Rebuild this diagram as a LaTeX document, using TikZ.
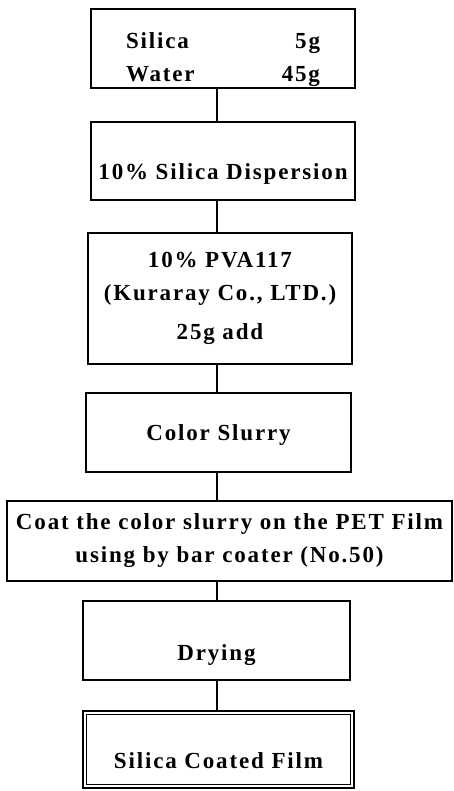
\documentclass[tikz,border=0pt]{standalone}
\usepackage{fontspec}
\setmainfont{Liberation Serif}[LetterSpace=8]
\newcommand\lowertext[2]{\raisebox{-#1}[\height][\depth]{#2}}
\begin{document}
\begin{tikzpicture}[x=1pt,y=-1pt,
  box/.style={draw, line width=1.6pt, inner sep=0pt, align=center,
    font=\bfseries\fontsize{23}{33}\selectfont},
  link/.style={line width=1.3pt}]
\useasboundingbox (0,0) rectangle (454,791);
\fill[white] (0,0) rectangle (454,791);

\node[box, minimum width=264pt, minimum height=79pt] (b1) at (223,48.5)
  {\lowertext{10pt}{\begin{tabular}{@{}l@{}}\makebox[194pt]{Silica\hfill 5g}\\\makebox[194pt]{Water\hfill 45g}\end{tabular}}};
\node[box, minimum width=264pt, minimum height=78pt] (b2) at (223,161)
  {\lowertext{13pt}{10\% Silica Dispersion}};
\node[box, minimum width=264pt, minimum height=131pt] (b3) at (220,298.5)
  {10\% PVA117\\(Kuraray Co., LTD.)\\[6pt]25g add};
\node[box, minimum width=265pt, minimum height=79pt] (b4) at (218.5,432.5)
  {\lowertext{2pt}{Color Slurry}};
\node[box, minimum width=445pt, minimum height=80pt] (b5) at (229.5,541)
  {Coat the color slurry on the PET Film\\using by bar coater (No.50)};
\node[box, minimum width=267pt, minimum height=79pt] (b6) at (216.5,640.5)
  {\lowertext{15pt}{Drying}};
\node[box, line width=2.6pt, minimum width=271pt, minimum height=77pt] (b7) at (218.5,749.5)
  {\lowertext{11pt}{Silica Coated Film}};
\draw[line width=1.4pt] ([shift={(5pt,-5pt)}]b7.north west) rectangle ([shift={(-5pt,5pt)}]b7.south east);

\coordinate (cx) at (217,0);
\draw[link] (b1.south -| cx) -- (b2.north -| cx);
\draw[link] (b2.south -| cx) -- (b3.north -| cx);
\draw[link] (b3.south -| cx) -- (b4.north -| cx);
\draw[link] (b4.south -| cx) -- (b5.north -| cx);
\draw[link] (b5.south -| cx) -- (b6.north -| cx);
\draw[link] (b6.south -| cx) -- (b7.north -| cx);
\end{tikzpicture}
\end{document}
